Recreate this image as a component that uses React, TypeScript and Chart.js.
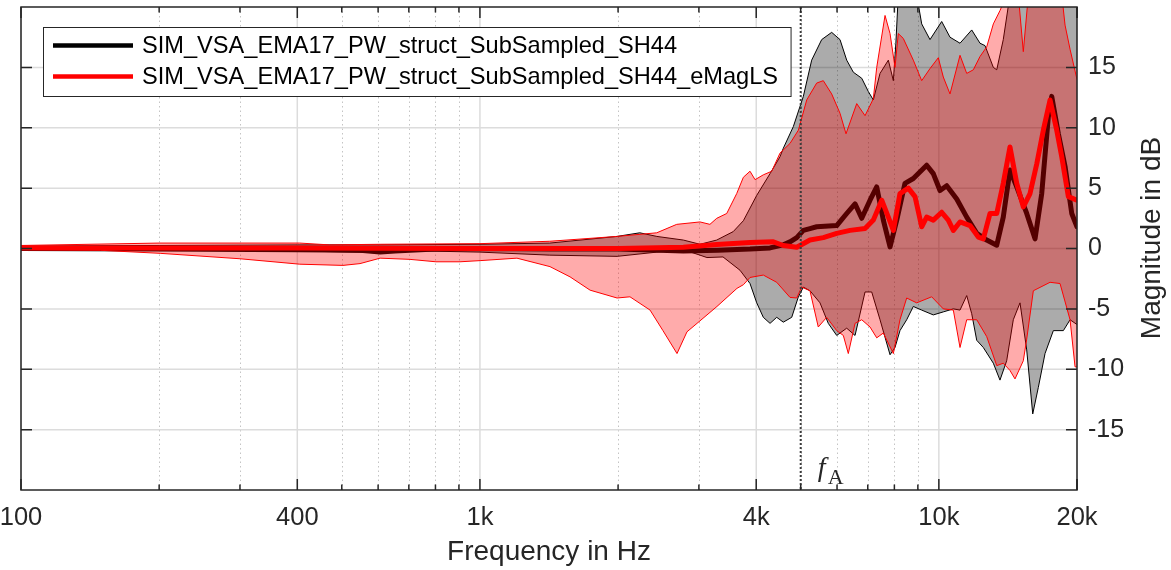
import React, { useEffect, useRef } from "react";
import { Chart, registerables } from "chart.js";

Chart.register(...registerables);

// ---- data (frequency in Hz, magnitude in dB) ----
const fBlackUpper = [100, 200, 400, 600, 1000, 1420, 1990, 2230, 2430, 2775, 3017, 3281, 3564, 3750, 4010, 4287, 4507, 4582, 4819, 5067, 5283, 5555, 5841, 6090, 6298, 6511, 6791, 7020, 7198, 7444, 7761, 7959, 8060, 8159, 8948, 9175, 9565, 10144, 10576, 11120, 11792, 12294, 12607, 13144, 13370, 13816, 14289, 20000];
const blackUpper = [0.2, 0.25, 0.3, 0.3, 0.35, 0.45, 1.0, 1.3, 1.0, 0.7, 0.35, 0.7, 1.4, 2.3, 4.4, 6.2, 7.6, 8.3, 10.1, 12.6, 15.6, 17.3, 17.9, 17.3, 15.6, 14.6, 14.1, 13.0, 12.3, 14.5, 15.6, 13.9, 17.0, 21, 21, 18.6, 17.3, 18.8, 17.5, 17.0, 18.1, 17.0, 16.8, 15.0, 14.8, 17.3, 21, 21];

const fBlackLower = [100, 200, 400, 606, 740, 1000, 1420, 1990, 2430, 2775, 3017, 3124, 3386, 3687, 3877, 4010, 4145, 4287, 4433, 4582, 4780, 4942, 5067, 5238, 5508, 5742, 5990, 6298, 6567, 6905, 7140, 7444, 7828, 8025, 8228, 8510, 8797, 9175, 9725, 10226, 10753, 11120, 11500, 11792, 12093, 12500, 13144, 13589, 14054, 14529, 15026, 15540, 16017, 16473, 17036, 17762, 18677, 19315, 20000];
const blackLower = [-0.1, -0.15, -0.2, -0.35, -0.2, -0.3, -0.55, -0.65, -0.3, -0.1, -0.55, -0.75, -0.7, -1.8, -2.9, -4.5, -5.7, -6.2, -5.7, -6.1, -5.7, -4.0, -3.2, -3.5, -4.5, -6.2, -7.2, -6.6, -7.2, -3.6, -3.6, -5.9, -8.8, -8.2, -6.8, -5.9, -4.8, -5.1, -5.5, -5.25, -5.0, -5.1, -3.9, -5.4, -7.6, -8.2, -9.5, -10.9, -9.3, -5.9, -4.5, -8.4, -13.7, -11.5, -8.7, -6.8, -6.8, -5.9, -6.3];

const fBlackMean = [100, 200, 400, 548, 606, 653, 800, 1000, 1420, 2000, 2775, 3300, 3877, 4287, 4582, 4739, 4902, 5067, 5238, 5417, 5990, 6298, 6567, 6791, 7080, 7322, 7569, 7828, 8095, 8437, 8797, 9408, 9725, 10058, 10402, 10938, 11500, 12093, 12715, 13370, 13816, 14289, 14779, 15540, 16202, 16756, 17321, 17619, 18213, 18836, 19481, 20000];
const blackMean = [0.0, -0.05, -0.1, -0.15, -0.3, -0.2, -0.05, 0.0, -0.05, -0.05, -0.2, -0.15, -0.05, 0.05, 0.3, 0.55, 0.9, 1.5, 1.65, 1.8, 1.9, 2.9, 3.7, 2.5, 4.0, 5.1, 2.35, 0.13, 2.35, 5.4, 5.8, 6.9, 6.2, 4.8, 5.2, 4.1, 2.6, 1.25, 0.7, 0.27, 2.6, 6.5, 5.1, 2.9, 0.8, 4.55, 10.9, 12.6, 9.5, 6.8, 2.9, 1.8];

const fRedUpper = [100, 200, 405, 470, 606, 1000, 1420, 1987, 2428, 2684, 3017, 3171, 3281, 3450, 3627, 3750, 3877, 3977, 4145, 4324, 4507, 4739, 4942, 5153, 5417, 5600, 5841, 6090, 6276, 6623, 6905, 7198, 7322, 7634, 7828, 8025, 8159, 8366, 8797, 9175, 9565, 9973, 10226, 10576, 11120, 11500, 11888, 12294, 12715, 13144, 13589, 14054, 14900, 15277, 15670, 18527, 18836, 19315, 20000];
const redUpper = [0.25, 0.45, 0.45, 0.3, 0.35, 0.4, 0.6, 1.0, 1.3, 2.0, 2.2, 2.0, 2.5, 2.9, 4.55, 5.9, 6.4, 5.7, 6.1, 6.4, 7.9, 8.7, 9.8, 12.3, 13.7, 13.9, 12.8, 11.2, 9.5, 12.0, 11.0, 12.4, 15.0, 19.3, 17.8, 15.0, 17.8, 17.4, 15.6, 13.9, 14.9, 15.8, 14.2, 12.8, 16.0, 14.5, 14.8, 15.9, 16.7, 18.6, 19.7, 21, 21, 16.3, 21, 21, 18.5, 16.5, 14.0];

const fRedLower = [100, 149, 201, 300, 405, 503, 548, 606, 704, 802, 905, 1005, 1204, 1421, 1572, 1738, 1990, 2123, 2348, 2505, 2688, 2826, 2972, 3285, 3632, 3750, 3877, 4145, 4433, 4739, 4900, 5026, 5238, 5461, 5696, 5990, 6192, 6349, 6567, 6791, 7080, 7322, 7569, 7959, 8228, 8510, 8948, 9647, 10226, 10753, 11120, 11500, 12093, 12715, 13370, 13816, 14289, 14654, 15277, 15540, 16065, 17470, 18369, 19315, 19806, 20000];
const redLower = [-0.1, -0.15, -0.4, -0.85, -1.3, -1.4, -1.25, -0.8, -0.9, -1.1, -1.1, -1.0, -0.8, -1.5, -2.35, -3.45, -4.1, -4.0, -5.1, -6.8, -8.7, -6.9, -6.2, -4.8, -3.3, -3.0, -2.4, -2.2, -2.8, -4.05, -4.1, -3.2, -3.5, -6.5, -5.7, -6.8, -7.2, -8.7, -6.2, -5.9, -6.5, -7.4, -7.0, -8.7, -5.9, -4.1, -4.5, -4.0, -5.0, -5.1, -8.2, -5.9, -5.9, -7.3, -9.7, -9.5, -10.1, -10.8, -9.3, -7.5, -3.5, -2.8, -2.9, -5.9, -9.8, -9.8];

const fRedMean = [100, 400, 1000, 2000, 2775, 3281, 3877, 4359, 4582, 4902, 5238, 5600, 5990, 6404, 6905, 7198, 7508, 7761, 7959, 8228, 8579, 8872, 9175, 9408, 9725, 10144, 10486, 10753, 11120, 11692, 12190, 12500, 12927, 13370, 13816, 14289, 14779, 15277, 15800, 16341, 16892, 17470, 18067, 18527, 19151, 20000];
const redMean = [0.05, 0.05, 0.0, 0.0, 0.1, 0.33, 0.5, 0.55, 0.25, 0.1, 0.7, 0.9, 1.25, 1.5, 1.65, 2.35, 4.0, 2.6, 1.5, 4.55, 5.0, 4.3, 1.8, 2.6, 2.35, 3.0, 2.35, 1.5, 2.2, 1.9, 0.95, 0.8, 2.9, 2.9, 5.4, 8.4, 5.4, 3.45, 4.55, 7.0, 9.8, 12.3, 9.8, 7.6, 4.3, 4.0];

const xTickValues = [100, 400, 1000, 4000, 10000, 20000];
const xTickLabels = ["100", "400", "1k", "4k", "10k", "20k"];
const yTickValues = [-15, -10, -5, 0, 5, 10, 15];
const legendLabels = [
  "SIM_VSA_EMA17_PW_struct_SubSampled_SH44",
  "SIM_VSA_EMA17_PW_struct_SubSampled_SH44_eMagLS",
];
const legendColors = ["#000000", "#ff0000"];
const fA = 5000;
const xTitle = "Frequency in Hz";
const yTitle = "Magnitude in dB";

const AXIS = "#262626";
const FONT = "'Liberation Sans', Arial, Helvetica, sans-serif";
const SERIF = "'Liberation Serif', 'Times New Roman', serif";

const minorFreqs: number[] = [];
[100, 1000, 10000].forEach((d) => {
  for (let m = 1; m <= 9; m++) if (d * m <= 20000) minorFreqs.push(d * m);
});
minorFreqs.push(20000);

const pts = (xs: number[], ys: number[]) => xs.map((x, i) => ({ x, y: ys[i] }));

const zeroPad = (s: any) => {
  s.paddingLeft = 0;
  s.paddingRight = 0;
  s.paddingTop = 0;
  s.paddingBottom = 0;
};

const matlabPlugin = {
  id: "matlabAxes",
  beforeDatasetsDraw(chart: any) {
    const { ctx, chartArea: a, scales } = chart;
    const xs = scales.x;
    const ys = scales.y;
    ctx.save();
    // minor dotted vertical grid
    ctx.strokeStyle = "#c4c4c4";
    ctx.lineWidth = 1;
    ctx.setLineDash([1.5, 3]);
    for (const f of minorFreqs) {
      if (xTickValues.includes(f)) continue;
      const px = Math.round(xs.getPixelForValue(f)) + 0.5;
      ctx.beginPath();
      ctx.moveTo(px, a.top);
      ctx.lineTo(px, a.bottom);
      ctx.stroke();
    }
    ctx.setLineDash([]);
    ctx.strokeStyle = "#dcdcdc";
    ctx.lineWidth = 1.5;
    for (const f of xTickValues) {
      const px = xs.getPixelForValue(f);
      ctx.beginPath();
      ctx.moveTo(px, a.top);
      ctx.lineTo(px, a.bottom);
      ctx.stroke();
    }
    for (const v of yTickValues) {
      const py = ys.getPixelForValue(v);
      ctx.beginPath();
      ctx.moveTo(a.left, py);
      ctx.lineTo(a.right, py);
      ctx.stroke();
    }
    ctx.restore();
  },
  afterDatasetsDraw(chart: any) {
    const { ctx, chartArea: a, scales } = chart;
    const xs = scales.x;
    const ys = scales.y;
    ctx.save();
    // f_A marker line
    const pxA = xs.getPixelForValue(fA);
    ctx.strokeStyle = "#3c3c3c";
    ctx.lineWidth = 2;
    ctx.setLineDash([2, 2]);
    ctx.beginPath();
    ctx.moveTo(pxA, a.top);
    ctx.lineTo(pxA, a.bottom);
    ctx.stroke();
    ctx.setLineDash([]);
    // f_A label
    ctx.fillStyle = AXIS;
    ctx.textBaseline = "alphabetic";
    ctx.textAlign = "left";
    ctx.font = `italic 28px ${SERIF}`;
    ctx.fillText("f", pxA + 17, a.bottom - 14);
    ctx.font = `22px ${SERIF}`;
    ctx.fillText("A", pxA + 27, a.bottom - 6);

    // axes box
    ctx.strokeStyle = AXIS;
    ctx.lineWidth = 1.5;
    ctx.strokeRect(a.left, a.top, a.right - a.left, a.bottom - a.top);
    // ticks
    ctx.lineWidth = 1.5;
    for (const v of yTickValues) {
      const py = ys.getPixelForValue(v);
      ctx.beginPath();
      ctx.moveTo(a.left, py);
      ctx.lineTo(a.left + 11, py);
      ctx.moveTo(a.right, py);
      ctx.lineTo(a.right - 11, py);
      ctx.stroke();
    }
    for (const f of minorFreqs) {
      const len = xTickValues.includes(f) ? 11 : 5.5;
      const px = xs.getPixelForValue(f);
      ctx.beginPath();
      ctx.moveTo(px, a.bottom);
      ctx.lineTo(px, a.bottom - len);
      ctx.moveTo(px, a.top);
      ctx.lineTo(px, a.top + len);
      ctx.stroke();
    }

    // legend
    ctx.font = `23.6px ${FONT}`;
    const tw = Math.max(...legendLabels.map((t) => ctx.measureText(t).width));
    const bx = 43.5;
    const by = 27.5;
    const bw = 142 + tw + 13 - bx;
    const bh = 69;
    ctx.fillStyle = "#ffffff";
    ctx.fillRect(bx, by, bw, bh);
    ctx.strokeStyle = AXIS;
    ctx.lineWidth = 1;
    ctx.strokeRect(bx, by, bw, bh);
    const rows = [45.5, 76.5];
    legendLabels.forEach((t, i) => {
      ctx.strokeStyle = legendColors[i];
      ctx.lineWidth = 4.5;
      ctx.beginPath();
      ctx.moveTo(53, rows[i]);
      ctx.lineTo(133, rows[i]);
      ctx.stroke();
      ctx.fillStyle = "#000000";
      ctx.textBaseline = "middle";
      ctx.textAlign = "left";
      ctx.fillText(t, 142, rows[i] + 1);
    });

    // y title (reads bottom to top)
    ctx.save();
    ctx.translate(1152, 238);
    ctx.rotate(-Math.PI / 2);
    ctx.font = `28px ${FONT}`;
    ctx.fillStyle = AXIS;
    ctx.textAlign = "center";
    ctx.textBaseline = "middle";
    ctx.fillText(yTitle, 0, 0);
    ctx.restore();

    ctx.restore();
  },
};

export default function App() {
  const ref = useRef<HTMLCanvasElement | null>(null);
  useEffect(() => {
    if (!ref.current) return;
    const chart = new Chart(ref.current, {
      type: "line",
      data: {
        datasets: [
          { label: "redMean", data: pts(fRedMean, redMean), borderColor: "#ff0000", borderWidth: 5, pointRadius: 0, fill: false, order: 0 },
          { label: "redUpper", data: pts(fRedUpper, redUpper), borderColor: "#ff0000", borderWidth: 1, pointRadius: 0, fill: 2, backgroundColor: "rgba(255,0,0,0.33)", order: 1 },
          { label: "redLower", data: pts(fRedLower, redLower), borderColor: "#ff0000", borderWidth: 1, pointRadius: 0, fill: false, order: 2 },
          { label: "blackMean", data: pts(fBlackMean, blackMean), borderColor: "#000000", borderWidth: 5, pointRadius: 0, fill: false, order: 3 },
          { label: "blackUpper", data: pts(fBlackUpper, blackUpper), borderColor: "#000000", borderWidth: 1, pointRadius: 0, fill: 5, backgroundColor: "rgba(0,0,0,0.33)", order: 4 },
          { label: "blackLower", data: pts(fBlackLower, blackLower), borderColor: "#000000", borderWidth: 1, pointRadius: 0, fill: false, order: 5 },
        ] as any,
      },
      options: {
        responsive: false,
        animation: false,
        events: [],
        layout: { padding: { left: 21, top: 7, right: 0, bottom: 0 } },
        elements: { line: { tension: 0, borderJoinStyle: "round", borderCapStyle: "round" } },
        plugins: {
          legend: { display: false },
          tooltip: { enabled: false },
          title: { display: false },
        },
        scales: {
          x: {
            type: "logarithmic",
            min: 100,
            max: 20000,
            grid: { display: false, drawTicks: false },
            border: { display: false },
            afterBuildTicks: (s: any) => {
              s.ticks = xTickValues.map((v) => ({ value: v }));
            },
            afterFit: (s: any) => {
              s.height = 80;
              zeroPad(s);
            },
            ticks: {
              autoSkip: false,
              maxRotation: 0,
              padding: 13,
              color: AXIS,
              font: { size: 25.5, family: FONT },
              callback: (v: any) => {
                const i = xTickValues.indexOf(Number(v));
                return i >= 0 ? xTickLabels[i] : "";
              },
            },
            title: {
              display: true,
              text: xTitle,
              color: AXIS,
              font: { size: 28, family: FONT },
              padding: { top: 0, bottom: 1 },
            },
          },
          y: {
            type: "linear",
            position: "right",
            min: -20,
            max: 20,
            grid: { display: false, drawTicks: false },
            border: { display: false },
            afterBuildTicks: (s: any) => {
              s.ticks = yTickValues.map((v) => ({ value: v }));
            },
            afterFit: (s: any) => {
              s.width = 94;
              zeroPad(s);
            },
            ticks: {
              padding: 11,
              color: AXIS,
              font: { size: 25, family: FONT },
              callback: (v: any) => String(v),
            },
          },
        },
      } as any,
      plugins: [matlabPlugin],
    });
    return () => chart.destroy();
  }, []);
  return (
    <div style={{ position: "absolute", left: 0, top: 0, width: 1171, height: 570, background: "#fff" }}>
      <canvas ref={ref} width={1171} height={570} style={{ display: "block" }} />
    </div>
  );
}
